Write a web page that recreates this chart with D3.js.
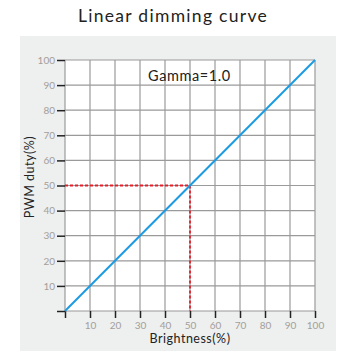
<!DOCTYPE html>
<html><head><meta charset="utf-8">
<script src="https://cdn.jsdelivr.net/npm/d3@7"></script>
<style>body{margin:0;background:#fff;} text{font-family:"Lato","Open Sans",sans-serif;}</style>
</head><body>
<svg id="c" width="347" height="358"></svg>
<script>
const brightness = [0, 100];
const pwmDuty = [0, 100];
const xTicks = [10,20,30,40,50,60,70,80,90,100];
const yTicks = [10,20,30,40,50,60,70,80,90,100];
const gridValues = [0,10,20,30,40,50,60,70,80,90,100];
const marker = {x:50, y:50};
const title = "Linear dimming curve";
const annotation = "Gamma=1.0";

const svg = d3.select("#c");
const L=65, R=315, T=60, B=311;
const x = d3.scaleLinear().domain([0,100]).range([L,R]);
const y = d3.scaleLinear().domain([0,100]).range([B,T]);

svg.append("rect").attr("x",20).attr("y",36).attr("width",316).attr("height",315).attr("fill","#eeefef");
svg.append("rect").attr("x",L).attr("y",T).attr("width",R-L).attr("height",B-T).attr("fill","#fff");

svg.append("text").attr("x",173).attr("y",22).attr("text-anchor","middle")
  .attr("font-size",17.5).attr("letter-spacing",1.3).attr("fill","#222").text(title);

const g = svg.append("g");
g.selectAll(".vx").data(gridValues).join("line")
  .attr("x1",d=>x(d)).attr("x2",d=>x(d)).attr("y1",T).attr("y2",B)
  .attr("stroke","#9a9a9a").attr("stroke-width",1.2);
g.selectAll(".hy").data(gridValues).join("line")
  .attr("y1",d=>y(d)).attr("y2",d=>y(d)).attr("x1",L).attr("x2",R)
  .attr("stroke","#9a9a9a").attr("stroke-width",1.2);

// axes
const xa = svg.append("g").attr("transform",`translate(0,${B})`)
  .call(d3.axisBottom(x).tickValues([0,...xTicks]).tickSize(7).tickPadding(4).tickFormat(d=>d===0?"":d));
const ya = svg.append("g").attr("transform",`translate(${L},0)`)
  .call(d3.axisLeft(y).tickValues([0,...yTicks]).tickSize(8).tickPadding(2).tickFormat(d=>d===0?"":d));
[xa,ya].forEach(a=>{
  a.select(".domain").remove();
  a.selectAll(".tick line").attr("stroke","#222").attr("stroke-width",1.5);
  a.selectAll(".tick text").attr("fill","#a39e9a").attr("font-size",10).style("font-family","Lato, sans-serif");
});

// red dashed
svg.append("path").attr("d",`M${x(0)},${y(marker.y)}H${x(marker.x)}V${y(0)}`)
  .attr("fill","none").attr("stroke","#e51e2a").attr("stroke-width",1.8).attr("stroke-dasharray","3,2");

// line
svg.append("path").datum(brightness.map((b,i)=>[b,pwmDuty[i]]))
  .attr("d",d3.line().x(d=>x(d[0])).y(d=>y(d[1])))
  .attr("fill","none").attr("stroke","#1c9be2").attr("stroke-width",2);

svg.append("text").attr("x",148).attr("y",81).attr("font-size",14.5).attr("letter-spacing",0.6).attr("fill","#222").text(annotation);

svg.append("text").attr("x",190).attr("y",343).attr("text-anchor","middle").attr("font-size",12.5)
  .attr("letter-spacing",0.5).attr("fill","#222").text("Brightness(%)");
svg.append("text").attr("transform",`translate(34,177) rotate(-90)`).attr("text-anchor","middle")
  .attr("font-size",12.5).attr("letter-spacing",0.5).attr("fill","#222").text("PWM duty(%)");
</script>
</body></html>
